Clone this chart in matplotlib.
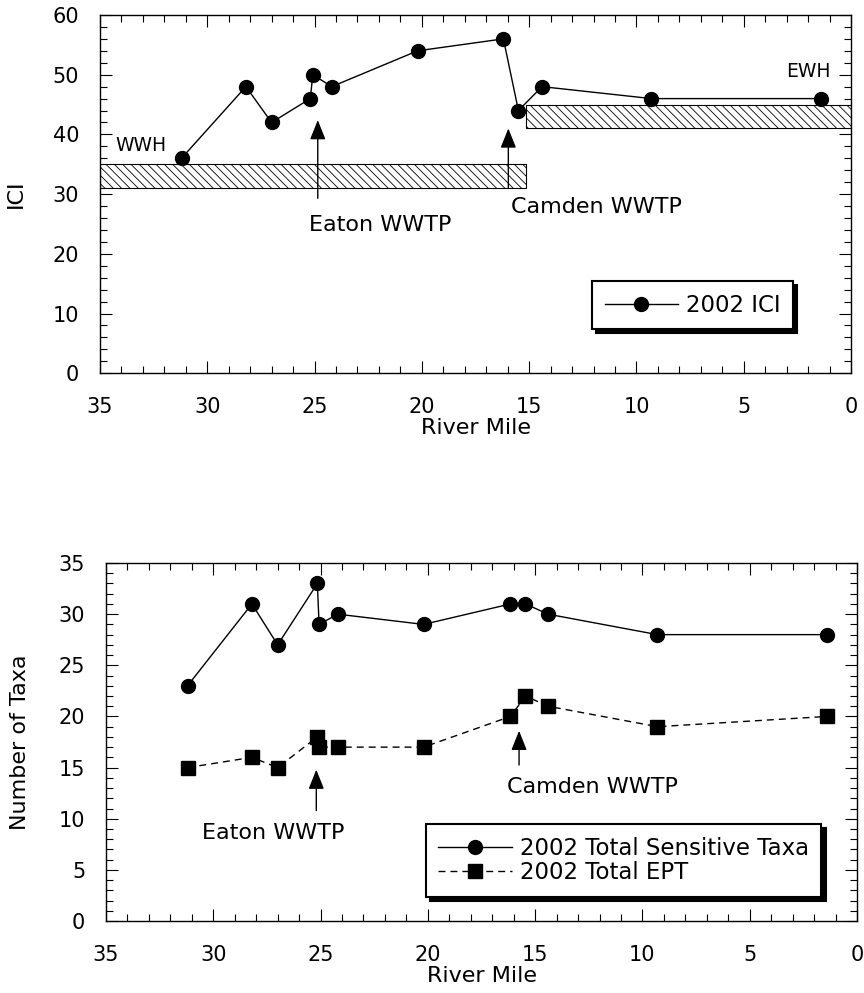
import matplotlib
matplotlib.use("Agg")
import matplotlib.pyplot as plt
from matplotlib.patches import Rectangle
from matplotlib.ticker import MultipleLocator

plt.rcParams['font.family'] = ['DejaVu Sans']
plt.rcParams['hatch.linewidth'] = 0.6

# top panel - ICI
ici_mile = [31.2, 28.2, 27.0, 25.2, 25.08, 24.2, 20.2, 16.2, 15.5, 14.4, 9.3, 1.4]
ici = [36, 48, 42, 46, 50, 48, 54, 56, 44, 48, 46, 46]

# criteria bands (river mile from, to, ICI low, high)
wwh_band = [35.0, 15.15, 31, 35]
ewh_band = [15.15, 0.0, 41, 45]

# bottom panel - taxa counts
taxa_mile = [31.2, 28.2, 27.0, 25.15, 25.07, 24.2, 20.2, 16.15, 15.45, 14.4, 9.3, 1.4]
sensitive = [23, 31, 27, 33, 29, 30, 29, 31, 31, 30, 28, 28]
ept = [15, 16, 15, 18, 17, 17, 17, 20, 22, 21, 19, 20]

fs = 16

fig = plt.figure(figsize=(8.64, 9.93), dpi=100)
ax1 = fig.add_axes([0.1157, 0.6241, 0.8693, 0.3608])
ax2 = fig.add_axes([0.1227, 0.0725, 0.8692, 0.3605])


def style_axis(ax, ymax, ymajor, yminor):
    ax.set_xlim(35, 0)
    ax.set_ylim(0, ymax)
    ax.xaxis.set_major_locator(MultipleLocator(5))
    ax.xaxis.set_minor_locator(MultipleLocator(1))
    ax.yaxis.set_major_locator(MultipleLocator(ymajor))
    ax.yaxis.set_minor_locator(MultipleLocator(yminor))
    ax.tick_params(which='both', direction='in', top=True, right=True, width=0.8, labelsize=15)
    ax.tick_params(which='major', length=8.6)
    ax.tick_params(which='minor', length=5)
    ax.tick_params(axis='x', pad=17)
    ax.tick_params(axis='y', pad=15)
    for s in ax.spines.values():
        s.set_linewidth(1.0)
    ax.set_xlabel('River Mile', fontsize=16, labelpad=1)


def arrow(ax, x, y0, y1):
    ax.annotate('', xy=(x, y1), xytext=(x, y0),
                arrowprops=dict(arrowstyle='-|>,head_length=0.6,head_width=0.24',
                                mutation_scale=20, lw=1, color='black',
                                shrinkA=0, shrinkB=0), zorder=4)


def shadow_legend(ax, x, y):
    leg = ax.legend(loc='upper left', bbox_to_anchor=(x, y), borderaxespad=0,
                    fontsize=16.5, fancybox=False, handlelength=3.2, handletextpad=0.35,
                    labelspacing=0.08, borderpad=0.55,
                    shadow=dict(ox=3, oy=-3, color='black', alpha=1))
    leg.get_frame().set_edgecolor('black')
    leg.get_frame().set_linewidth(1.5)
    leg.set_zorder(6)


# ---- top panel ----
style_axis(ax1, 60, 10, 2)
for b in (wwh_band, ewh_band):
    ax1.add_patch(Rectangle((b[1], b[2]), b[0] - b[1], b[3] - b[2], facecolor='white',
                            edgecolor='black', hatch='\\\\\\\\', lw=0.8, zorder=2))
ax1.plot(ici_mile, ici, color='black', lw=1, marker='o', ms=10, zorder=5, label='2002 ICI')
ax1.text(33.1, 38.2, 'WWH', fontsize=13.5, ha='center', va='center')
ax1.text(2.0, 50.5, 'EWH', fontsize=13.5, ha='center', va='center')
arrow(ax1, 24.85, 29.3, 42.4)
arrow(ax1, 15.97, 31, 41)
ax1.text(25.26, 24.85, 'Eaton WWTP', fontsize=fs, ha='left', va='center')
ax1.text(15.85, 27.9, 'Camden WWTP', fontsize=fs, ha='left', va='center')
ax1.set_ylabel('ICI', fontsize=16)
ax1.yaxis.set_label_coords(-0.0985, 0.5)
shadow_legend(ax1, 0.655, 0.2576)

# ---- bottom panel ----
style_axis(ax2, 35, 5, 1)
ax2.plot(taxa_mile, sensitive, color='black', lw=1, marker='o', ms=10, zorder=5,
         label='2002 Total Sensitive Taxa')
ax2.plot(taxa_mile, ept, color='black', lw=1, marker='s', ms=10, zorder=5,
         dashes=(5, 3.6), label='2002 Total EPT')
arrow(ax2, 25.2, 10.8, 14.8)
arrow(ax2, 15.75, 15.25, 18.6)
ax2.text(30.54, 8.65, 'Eaton WWTP', fontsize=fs, ha='left', va='center')
ax2.text(16.32, 13.15, 'Camden WWTP', fontsize=fs, ha='left', va='center')
ax2.set_ylabel('Number of Taxa', fontsize=16)
ax2.yaxis.set_label_coords(-0.101, 0.5)
shadow_legend(ax2, 0.4257, 0.271)

fig.savefig('out.png', dpi=100)
